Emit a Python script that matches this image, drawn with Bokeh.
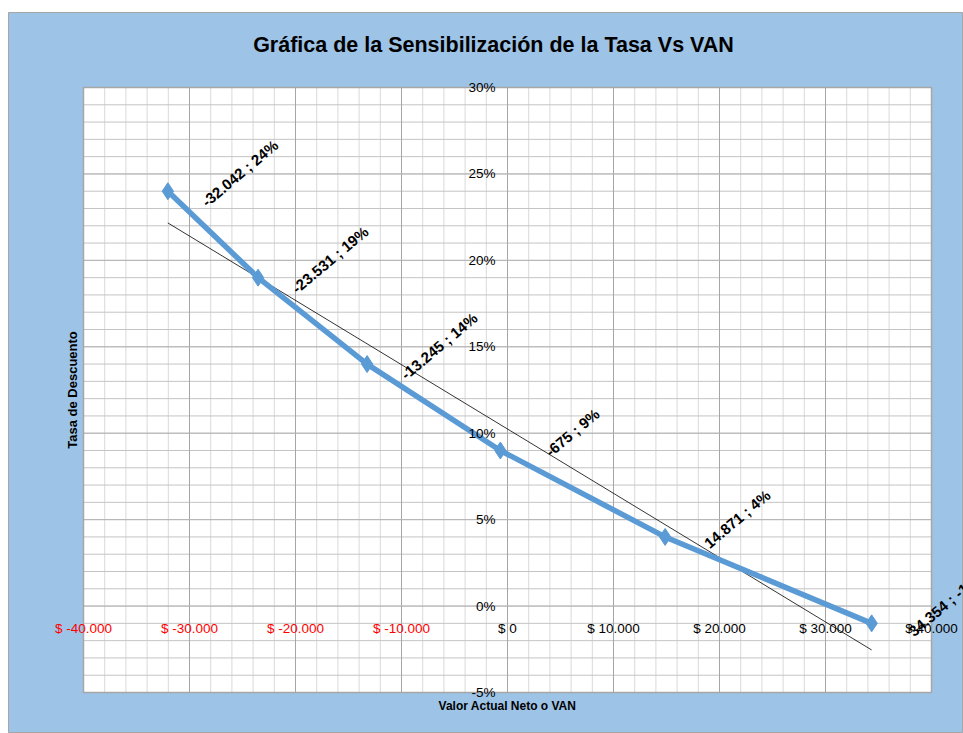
import numpy as np
from bokeh.plotting import figure
from bokeh.models import (LinearAxis, FixedTicker, ColumnDataSource, LabelSet,
                          Label, Spacer)
from bokeh.layouts import column, row
from bokeh.core.properties import value
from bokeh.embed import file_html
from bokeh.resources import INLINE

# ---- data -------------------------------------------------------------
van = [-32042, -23531, -13245, -675, 14871, 34354]          # Valor Actual Neto ($)
tasa = [24, 19, 14, 9, 4, -1]                                 # Tasa de descuento (%)
point_labels = ["-32.042 ; 24%", "-23.531 ; 19%", "-13.245 ; 14%",
                "-675 ; 9%", "14.871 ; 4%", "34.354 ; -1%"]

x_lim = [-40000, 40000]
y_lim = [-5, 30]
x_ticks_neg = [-40000, -30000, -20000, -10000]
x_ticks_pos = [0, 10000, 20000, 30000, 40000]
x_minor = list(range(-40000, 40001, 2000))
y_ticks = [-5, 0, 5, 10, 15, 20, 25, 30]
y_minor = list(range(-5, 31, 1))

title_text = "Gráfica de la Sensibilización de la Tasa Vs VAN"
x_title = "Valor Actual Neto o VAN"
y_title = "Tasa de Descuento"

# ---- layout / styles --------------------------------------------------
FONT = "Liberation Sans"
BG = "#9DC3E6"
LINE = "#5B9BD5"
W, H = 955, 721                       # figure size
PL, PR, PT, PB = 75, 923, 75, 680     # plot-area box inside the figure (px)

ux = (x_lim[1] - x_lim[0]) / (PR - PL)
uy = (y_lim[1] - y_lim[0]) / (PB - PT)
xr = (x_lim[0] - PL * ux, x_lim[1] + (W - PR) * ux)
yr = (y_lim[0] - (H - PB) * uy, y_lim[1] + PT * uy)


def money(v):
    return "$ " + f"{v:,}".replace(",", ".")


p = figure(width=W, height=H, x_range=xr, y_range=yr,
           x_axis_type=None, y_axis_type=None, output_backend="svg",
           toolbar_location=None, min_border=0,
           background_fill_color=BG, border_fill_color=BG,
           outline_line_color="#A6A6A6", outline_line_width=1)

# plot area
p.quad(left=[x_lim[0]], right=[x_lim[1]], bottom=[y_lim[0]], top=[y_lim[1]],
       fill_color="white", line_color=None)

# gridlines
p.segment(x0=x_minor, y0=[y_lim[0]] * len(x_minor), x1=x_minor,
          y1=[y_lim[1]] * len(x_minor), line_color="#D9D9D9", line_width=1)
p.segment(x0=[x_lim[0]] * len(y_minor), y0=y_minor, x1=[x_lim[1]] * len(y_minor),
          y1=y_minor, line_color="#C4C4C4", line_width=1)
xmaj = x_ticks_neg + x_ticks_pos
p.segment(x0=xmaj, y0=[y_lim[0]] * len(xmaj), x1=xmaj,
          y1=[y_lim[1]] * len(xmaj), line_color="#A6A6A6", line_width=1)
p.segment(x0=[x_lim[0]] * len(y_ticks), y0=y_ticks, x1=[x_lim[1]] * len(y_ticks),
          y1=y_ticks, line_color="#B4B4B4", line_width=1)
p.quad(left=[x_lim[0]], right=[x_lim[1]], bottom=[y_lim[0]], top=[y_lim[1]],
       fill_color=None, line_color="#A6A6A6", line_width=1.5)

axis_style = dict(axis_line_color=None, major_tick_line_color=None,
                  minor_tick_line_color=None, major_tick_out=0, major_tick_in=0,
                  minor_tick_out=0, minor_tick_in=0,
                  major_label_text_font=FONT, major_label_text_font_size="13.5px")

ax_neg = LinearAxis(ticker=FixedTicker(ticks=x_ticks_neg), fixed_location=0,
                    major_label_overrides={t: money(t) for t in x_ticks_neg},
                    major_label_text_color="#FF0000", major_label_standoff=15,
                    **axis_style)
ax_pos = LinearAxis(ticker=FixedTicker(ticks=x_ticks_pos), fixed_location=0,
                    major_label_overrides={t: money(t) for t in x_ticks_pos},
                    major_label_text_color="black", major_label_standoff=15,
                    **axis_style)
ay = LinearAxis(ticker=FixedTicker(ticks=y_ticks), fixed_location=0,
                major_label_overrides={t: f"{t}%" for t in y_ticks},
                major_label_text_color="black", major_label_standoff=12,
                **axis_style)
p.add_layout(ax_neg, "below")
p.add_layout(ax_pos, "below")
p.add_layout(ay, "left")

# trend line (linear fit of the series, as Excel's linear trendline)
coef = np.polyfit(van, tasa, 1)
tx = [min(van), max(van)]
ty = list(np.polyval(coef, tx))
p.line(tx, ty, line_color="black", line_width=0.8)

# series
p.line(van, tasa, line_color=LINE, line_width=5.5)
p.scatter(van, tasa, marker="diamond", size=17, color=LINE)

src = ColumnDataSource(dict(x=van, y=tasa, t=point_labels))
p.add_layout(LabelSet(x="x", y="y", text="t", source=src, angle=40, angle_units="deg",
                      x_offset=72, y_offset=18, text_align="center",
                      text_baseline="middle", text_font=value(FONT),
                      text_font_size=value("15px"), text_font_style="bold",
                      text_color="black"))

# titles
xc = (x_lim[0] + x_lim[1]) / 2
yc = (y_lim[0] + y_lim[1]) / 2
p.add_layout(Label(x=xc, y=y_lim[1], text=title_text, x_offset=-14, y_offset=43,
                   text_align="center", text_baseline="middle", text_font=FONT,
                   text_font_size="21.5px", text_font_style="bold", text_color="black"))
p.add_layout(Label(x=xc, y=y_lim[0], text=x_title, y_offset=-13,
                   text_align="center", text_baseline="middle", text_font=FONT,
                   text_font_size="12px", text_font_style="bold", text_color="black"))
p.add_layout(Label(x=x_lim[0], y=yc, text=y_title, x_offset=-11, angle=90,
                   angle_units="deg", text_align="center", text_baseline="middle",
                   text_font=FONT, text_font_size="13px", text_font_style="bold",
                   text_color="black"))

layout = column(Spacer(width=963, height=12), row(Spacer(width=8, height=H), p))
open("out.html", "w").write(file_html(layout, INLINE))
